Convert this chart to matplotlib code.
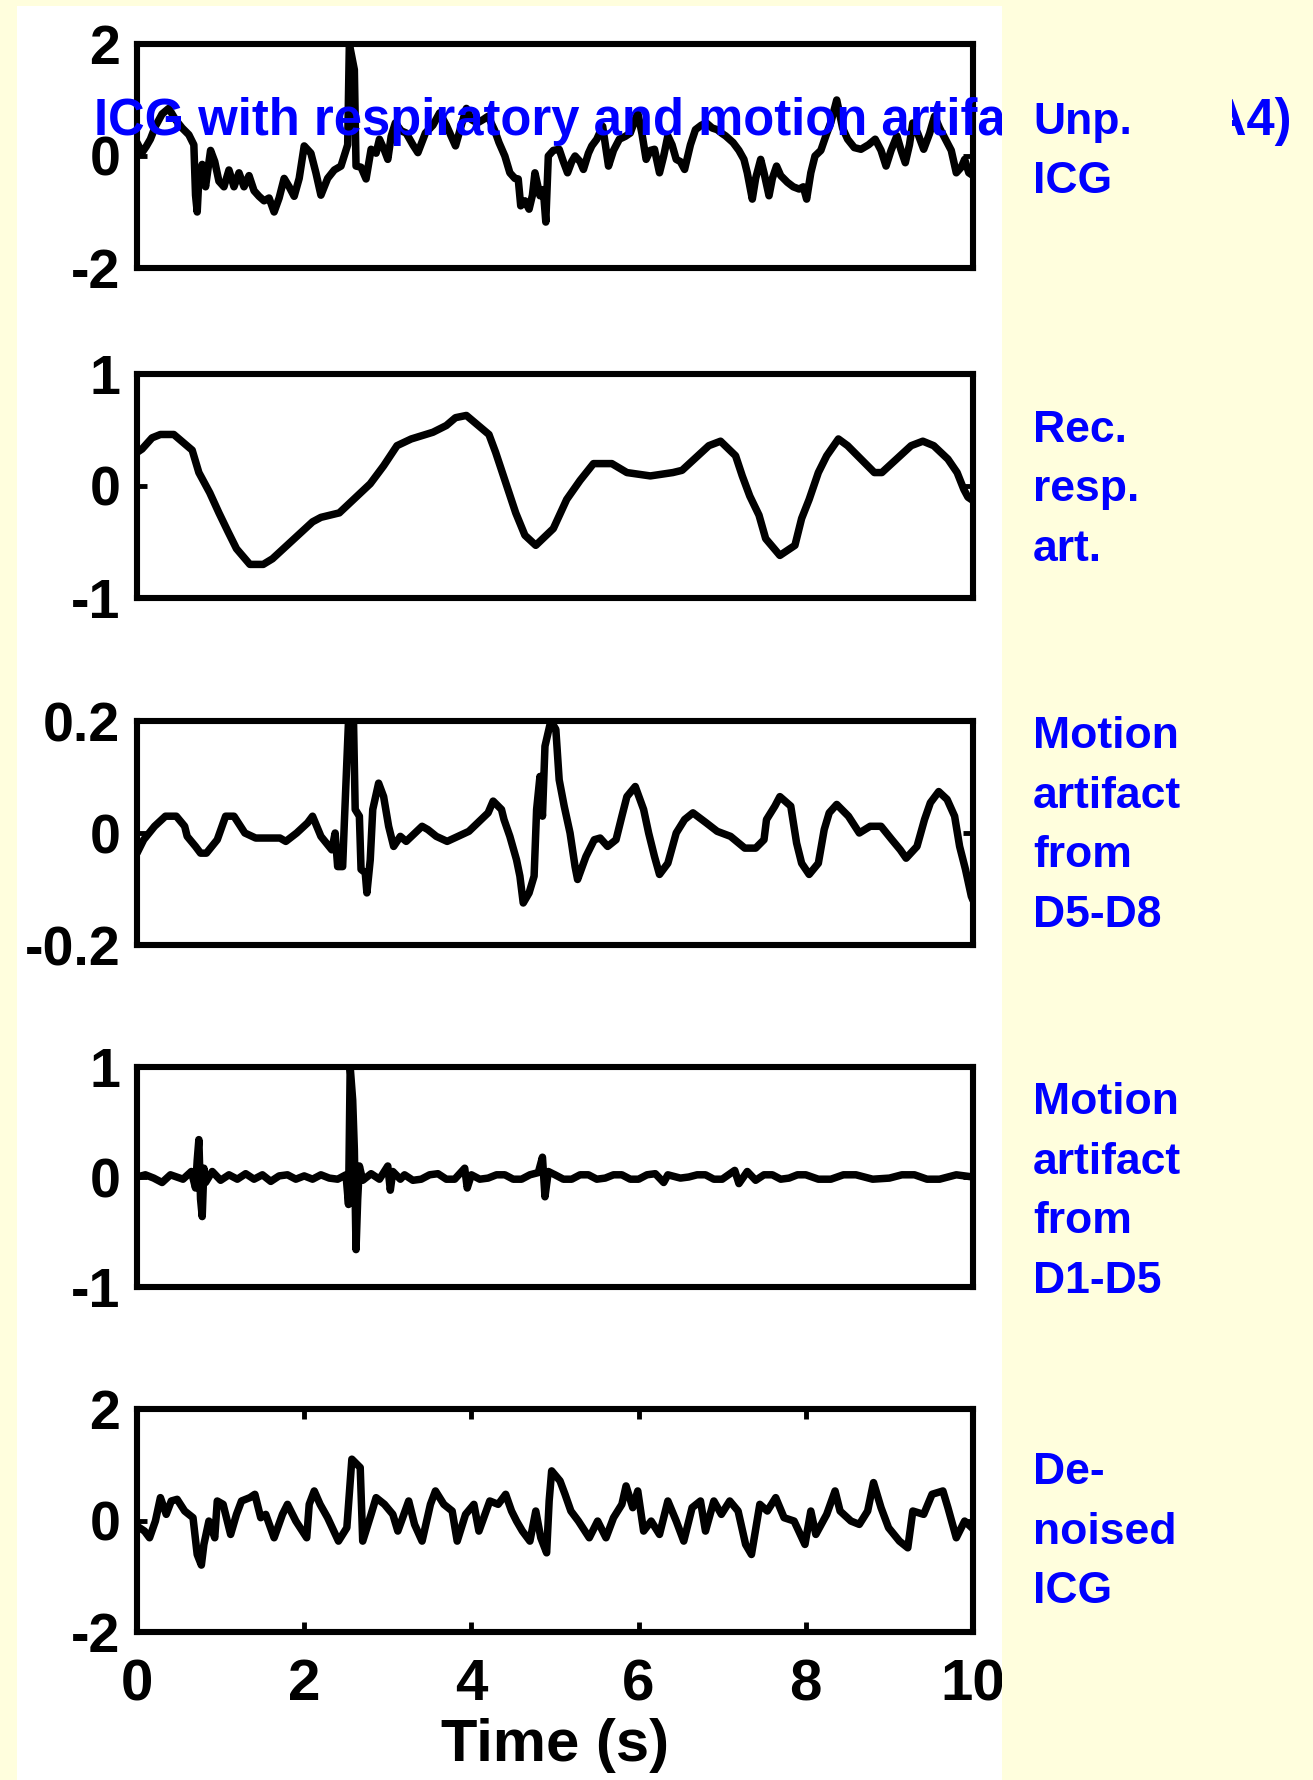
import numpy as np
import matplotlib
matplotlib.use('Agg')
import matplotlib.pyplot as plt
from matplotlib.patches import Rectangle
from matplotlib import font_manager
from matplotlib.font_manager import FontProperties

plt.rcParams['font.family'] = ['Liberation Sans', 'DejaVu Sans']
plt.rcParams['font.weight'] = 'bold'
plt.rcParams['axes.unicode_minus'] = False

# the blue slide texts are in a narrow face; use it when it is there
try:
    font_manager.findfont(FontProperties(family='Liberation Sans Narrow', weight='bold'),
                          fallback_to_default=False)
    NARROW = 'Liberation Sans Narrow'
    TITLE_FS, LABEL_FS = 44.5, 38
except ValueError:
    NARROW = 'Liberation Sans'
    TITLE_FS, LABEL_FS = 36.5, 32

# ================== data ==================
# unprocessed ICG (time s, value)
icg_raw = [
    (0.00, 0.24), (0.06, 0.06), (0.11, 0.17), (0.16, 0.30), (0.22, 0.53), (0.30, 0.75),
    (0.38, 0.85), (0.46, 0.65), (0.54, 0.50), (0.62, 0.38), (0.68, 0.20), (0.70, -0.70),
    (0.72, -1.00), (0.74, -0.40), (0.78, -0.15), (0.82, -0.55), (0.88, 0.10), (0.93, -0.10),
    (0.98, -0.45), (1.04, -0.55), (1.10, -0.25), (1.16, -0.55), (1.22, -0.30), (1.28, -0.55),
    (1.34, -0.35), (1.40, -0.62), (1.46, -0.72), (1.52, -0.80), (1.58, -0.75), (1.64, -1.00),
    (1.70, -0.75), (1.76, -0.40), (1.82, -0.55), (1.88, -0.72), (1.94, -0.40), (2.00, 0.18),
    (2.08, 0.05), (2.14, -0.30), (2.20, -0.70), (2.28, -0.40), (2.36, -0.25), (2.44, -0.18),
    (2.52, 0.20), (2.54, 2.00), (2.60, 1.54), (2.62, -0.18), (2.68, -0.20), (2.74, -0.41),
    (2.80, 0.12), (2.86, 0.05), (2.90, 0.30), (2.96, 0.10), (3.00, -0.06), (3.04, 0.35),
    (3.09, 0.59), (3.16, 0.45), (3.22, 0.41), (3.30, 0.20), (3.36, 0.06), (3.45, 0.41),
    (3.54, 0.55), (3.62, 0.77), (3.70, 0.55), (3.81, 0.18), (3.88, 0.55), (3.94, 0.85),
    (4.00, 0.65), (4.07, 0.59), (4.14, 0.65), (4.20, 0.71), (4.28, 0.45), (4.33, 0.24),
    (4.40, 0.00), (4.46, -0.30), (4.52, -0.40), (4.56, -0.41), (4.59, -0.89), (4.64, -0.80),
    (4.69, -0.95), (4.73, -0.70), (4.76, -0.30), (4.82, -0.71), (4.86, -0.60), (4.89, -1.18),
    (4.92, 0.00), (4.98, 0.10), (5.05, 0.12), (5.10, -0.10), (5.15, -0.30), (5.20, -0.10),
    (5.24, 0.00), (5.30, -0.10), (5.34, -0.24), (5.40, 0.05), (5.44, 0.18), (5.50, 0.30),
    (5.57, 0.53), (5.64, -0.18), (5.70, 0.10), (5.77, 0.30), (5.84, 0.35), (5.90, 0.41),
    (5.99, 0.77), (6.04, 0.40), (6.09, -0.06), (6.14, 0.10), (6.19, 0.12), (6.25, -0.30),
    (6.30, 0.00), (6.35, 0.36), (6.40, 0.20), (6.45, -0.06), (6.50, -0.10), (6.55, -0.24),
    (6.62, 0.20), (6.68, 0.47), (6.75, 0.55), (6.81, 0.59), (6.88, 0.50), (6.94, 0.47),
    (7.00, 0.40), (7.04, 0.36), (7.10, 0.28), (7.13, 0.24), (7.20, 0.10), (7.26, -0.06),
    (7.30, -0.30), (7.36, -0.77), (7.40, -0.40), (7.46, -0.06), (7.50, -0.30), (7.56, -0.71),
    (7.60, -0.40), (7.65, -0.18), (7.70, -0.35), (7.78, -0.47), (7.85, -0.55), (7.92, -0.59),
    (7.97, -0.55), (8.01, -0.77), (8.06, -0.30), (8.11, 0.00), (8.18, 0.10), (8.24, 0.36),
    (8.30, 0.60), (8.37, 1.00), (8.44, 0.50), (8.50, 0.30), (8.58, 0.15), (8.66, 0.12),
    (8.75, 0.20), (8.83, 0.30), (8.90, 0.10), (8.96, -0.18), (9.02, 0.10), (9.09, 0.36),
    (9.14, 0.10), (9.19, -0.12), (9.24, 0.20), (9.28, 0.59), (9.34, 0.40), (9.41, 0.12),
    (9.48, 0.40), (9.54, 0.71), (9.60, 0.50), (9.67, 0.30), (9.74, 0.10), (9.80, -0.30),
    (9.86, -0.20), (9.90, -0.06), (9.95, -0.30), (10.00, -0.35),
]

# reconstructed respiratory artifact
resp_art = [
    (0.00, 0.30), (0.06, 0.33), (0.18, 0.43), (0.28, 0.46), (0.44, 0.46), (0.66, 0.32),
    (0.74, 0.12), (0.87, -0.06), (0.98, -0.24), (1.09, -0.41), (1.19, -0.56), (1.35, -0.70),
    (1.51, -0.70), (1.62, -0.65), (2.10, -0.32), (2.20, -0.28), (2.42, -0.24), (2.79, 0.02),
    (2.95, 0.18), (3.11, 0.36), (3.28, 0.42), (3.54, 0.48), (3.70, 0.54), (3.81, 0.61),
    (3.94, 0.63), (4.21, 0.46), (4.29, 0.30), (4.37, 0.12), (4.45, -0.06), (4.53, -0.24),
    (4.64, -0.44), (4.77, -0.53), (4.98, -0.38), (5.14, -0.12), (5.30, 0.05), (5.46, 0.20),
    (5.68, 0.20), (5.86, 0.12), (6.14, 0.09), (6.41, 0.12), (6.52, 0.14), (6.84, 0.36),
    (6.98, 0.40), (7.16, 0.27), (7.24, 0.09), (7.33, -0.09), (7.44, -0.26), (7.52, -0.47),
    (7.69, -0.62), (7.87, -0.53), (7.95, -0.29), (8.04, -0.12), (8.15, 0.12), (8.25, 0.27),
    (8.39, 0.42), (8.50, 0.36), (8.66, 0.24), (8.82, 0.12), (8.91, 0.12), (9.26, 0.36),
    (9.40, 0.40), (9.53, 0.36), (9.70, 0.24), (9.81, 0.12), (9.89, -0.03), (9.94, -0.10),
    (10.00, -0.13),
]

# motion artifact from D5-D8
motion_d58 = [
    (0.00, -0.036), (0.08, -0.012), (0.21, 0.012), (0.34, 0.030), (0.47, 0.030), (0.57, 0.012),
    (0.60, -0.006), (0.70, -0.024), (0.76, -0.036), (0.83, -0.036), (0.96, -0.012), (1.06, 0.030),
    (1.16, 0.030), (1.29, 0.000), (1.42, -0.009), (1.71, -0.009), (1.78, -0.015), (1.91, 0.000),
    (2.04, 0.018), (2.10, 0.030), (2.20, -0.006), (2.33, -0.030), (2.37, 0.000), (2.40, -0.060),
    (2.46, -0.060), (2.48, 0.018), (2.53, 0.200), (2.59, 0.200), (2.61, 0.042), (2.66, 0.030),
    (2.68, -0.065), (2.73, -0.071), (2.75, -0.107), (2.79, -0.048), (2.82, 0.042), (2.89, 0.089),
    (2.95, 0.065), (3.01, 0.012), (3.07, -0.024), (3.15, -0.006), (3.22, -0.015), (3.41, 0.012),
    (3.48, 0.006), (3.58, -0.006), (3.71, -0.015), (3.84, -0.006), (3.97, 0.003), (4.20, 0.036),
    (4.26, 0.057), (4.36, 0.042), (4.39, 0.024), (4.46, -0.006), (4.54, -0.048), (4.58, -0.077),
    (4.62, -0.125), (4.69, -0.107), (4.75, -0.077), (4.78, 0.042), (4.82, 0.101), (4.85, 0.030),
    (4.88, 0.155), (4.95, 0.200), (5.01, 0.185), (5.05, 0.095), (5.11, 0.048), (5.18, 0.000),
    (5.24, -0.060), (5.27, -0.083), (5.37, -0.042), (5.47, -0.012), (5.54, -0.009), (5.63, -0.024),
    (5.73, -0.012), (5.80, 0.030), (5.86, 0.065), (5.96, 0.083), (6.06, 0.042), (6.12, 0.000),
    (6.19, -0.042), (6.25, -0.074), (6.35, -0.054), (6.45, 0.000), (6.55, 0.024), (6.65, 0.036),
    (6.81, 0.018), (6.94, 0.003), (7.10, -0.006), (7.27, -0.027), (7.40, -0.027), (7.50, -0.012),
    (7.53, 0.024), (7.63, 0.048), (7.69, 0.065), (7.82, 0.048), (7.89, -0.018), (7.95, -0.054),
    (8.04, -0.074), (8.15, -0.054), (8.22, 0.006), (8.28, 0.036), (8.37, 0.051), (8.51, 0.030),
    (8.64, 0.000), (8.77, 0.012), (8.90, 0.012), (9.03, -0.012), (9.13, -0.030), (9.20, -0.045),
    (9.33, -0.024), (9.42, 0.024), (9.49, 0.054), (9.59, 0.074), (9.69, 0.060), (9.78, 0.030),
    (9.84, -0.024), (9.91, -0.065), (9.98, -0.113), (10.00, -0.120),
]

# motion artifact from D1-D5
motion_d15 = [
    (0.00, 0.00), (0.10, 0.02), (0.20, -0.01), (0.30, -0.05), (0.40, 0.02), (0.55, -0.02),
    (0.65, 0.05), (0.70, -0.10), (0.72, 0.15), (0.74, 0.34), (0.76, -0.20), (0.78, -0.36),
    (0.80, 0.08), (0.82, -0.05), (0.90, 0.05), (1.00, -0.03), (1.10, 0.02), (1.20, -0.02),
    (1.30, 0.03), (1.40, -0.02), (1.50, 0.02), (1.60, -0.04), (1.70, 0.01), (1.80, 0.02),
    (1.90, -0.02), (2.00, 0.01), (2.10, -0.02), (2.20, 0.02), (2.30, -0.01), (2.40, -0.02),
    (2.50, 0.02), (2.53, -0.25), (2.55, 1.00), (2.58, 0.70), (2.60, 0.25), (2.62, -0.66),
    (2.64, -0.20), (2.66, 0.10), (2.70, -0.03), (2.80, 0.03), (2.90, -0.02), (3.00, 0.10),
    (3.03, -0.12), (3.06, 0.05), (3.15, -0.02), (3.20, 0.02), (3.30, -0.03), (3.40, -0.02),
    (3.50, 0.02), (3.60, 0.03), (3.70, -0.02), (3.80, -0.02), (3.92, 0.08), (3.95, -0.10),
    (4.00, 0.02), (4.10, -0.02), (4.20, -0.01), (4.30, 0.02), (4.40, 0.02), (4.50, -0.02),
    (4.60, -0.02), (4.70, 0.02), (4.80, 0.04), (4.85, 0.18), (4.88, -0.18), (4.92, 0.05),
    (5.00, 0.02), (5.10, -0.02), (5.20, -0.02), (5.30, 0.02), (5.40, 0.02), (5.50, -0.02),
    (5.60, -0.01), (5.70, 0.02), (5.80, 0.02), (5.90, -0.02), (6.00, -0.02), (6.10, 0.02),
    (6.20, 0.03), (6.30, -0.05), (6.35, 0.02), (6.50, -0.01), (6.60, 0.00), (6.70, 0.02),
    (6.80, 0.02), (6.90, -0.02), (7.00, -0.02), (7.15, 0.06), (7.20, -0.06), (7.30, 0.05),
    (7.40, -0.03), (7.50, 0.02), (7.60, 0.02), (7.70, -0.02), (7.80, -0.01), (7.90, 0.02),
    (8.00, 0.02), (8.15, -0.02), (8.30, -0.02), (8.45, 0.02), (8.60, 0.02), (8.80, -0.02),
    (9.00, -0.01), (9.15, 0.02), (9.30, 0.02), (9.45, -0.02), (9.60, -0.02), (9.80, 0.02),
    (10.00, 0.00),
]

# de-noised ICG
icg_clean = [
    (0.00, -0.10), (0.09, -0.19), (0.15, -0.31), (0.22, -0.01), (0.28, 0.41), (0.35, 0.11),
    (0.41, 0.35), (0.48, 0.38), (0.57, 0.17), (0.67, 0.05), (0.72, -0.61), (0.77, -0.80),
    (0.80, -0.43), (0.86, -0.01), (0.93, -0.31), (0.96, 0.35), (1.03, 0.29), (1.12, -0.25),
    (1.19, 0.11), (1.25, 0.35), (1.35, 0.41), (1.41, 0.47), (1.48, 0.05), (1.54, 0.11),
    (1.64, -0.31), (1.74, 0.11), (1.80, 0.29), (1.90, -0.01), (2.03, -0.31), (2.06, 0.29),
    (2.12, 0.53), (2.19, 0.29), (2.28, 0.05), (2.41, -0.37), (2.51, -0.13), (2.57, 1.10),
    (2.67, 0.95), (2.70, -0.37), (2.80, 0.11), (2.86, 0.41), (2.96, 0.29), (3.06, 0.11),
    (3.12, -0.19), (3.25, 0.35), (3.32, -0.07), (3.41, -0.37), (3.51, 0.29), (3.57, 0.53),
    (3.67, 0.29), (3.77, 0.17), (3.83, -0.37), (3.93, 0.11), (4.03, 0.29), (4.09, -0.19),
    (4.22, 0.35), (4.32, 0.29), (4.41, 0.47), (4.48, 0.17), (4.54, -0.01), (4.61, -0.19),
    (4.70, -0.37), (4.77, 0.17), (4.83, -0.31), (4.90, -0.58), (4.93, 0.35), (4.96, 0.89),
    (5.06, 0.71), (5.12, 0.47), (5.19, 0.17), (5.28, -0.01), (5.41, -0.31), (5.51, -0.01),
    (5.61, -0.31), (5.70, 0.05), (5.80, 0.29), (5.85, 0.62), (5.93, 0.23), (5.99, 0.53),
    (6.06, -0.19), (6.15, -0.01), (6.25, -0.25), (6.35, 0.35), (6.45, -0.01), (6.54, -0.37),
    (6.64, 0.23), (6.74, 0.35), (6.80, -0.19), (6.90, 0.35), (6.99, 0.11), (7.09, 0.35),
    (7.19, 0.17), (7.28, -0.43), (7.35, -0.61), (7.45, 0.29), (7.54, 0.17), (7.64, 0.41),
    (7.74, 0.05), (7.86, -0.01), (7.99, -0.43), (8.06, 0.17), (8.12, -0.25), (8.25, 0.11),
    (8.35, 0.53), (8.41, 0.17), (8.54, -0.01), (8.64, -0.07), (8.74, 0.17), (8.81, 0.68),
    (8.90, 0.23), (8.99, -0.13), (9.12, -0.37), (9.22, -0.49), (9.28, 0.17), (9.41, 0.11),
    (9.51, 0.47), (9.64, 0.53), (9.70, 0.23), (9.80, -0.31), (9.90, -0.01), (10.00, -0.15),
]

series = [icg_raw, resp_art, motion_d58, motion_d15, icg_clean]
ylims = [(-2, 2), (-1, 1), (-0.2, 0.2), (-1, 1), (-2, 2)]
ytick_vals = [[-2, 0, 2], [-1, 0, 1], [-0.2, 0, 0.2], [-1, 0, 1], [-2, 0, 2]]
ytick_txt = [['-2', '0', '2'], ['-1', '0', '1'], ['-0.2', '0', '0.2'],
             ['-1', '0', '1'], ['-2', '0', '2']]
xtick_vals = [0, 2, 4, 6, 8, 10]
side_labels = ['Unp.\nICG', 'Rec.\nresp.\nart.', 'Motion\nartifact\nfrom\nD5-D8',
               'Motion\nartifact\nfrom\nD1-D5', 'De-\nnoised\nICG']
title_main = 'ICG with respiratory and motion artifacts'
title_tail = '(A4)'
xlabel = 'Time (s)'

# ================== layout (pixels of the 1313x1780 picture) ==================
W, H = 1313, 1780
BG = '#FFFEDD'
BLUE = '#0000FF'
ax_left, ax_right = 137, 973
ax_tops = [44, 374, 721, 1067, 1409]
ax_bots = [268, 598, 945, 1287, 1632]
label_y = [152, 490, 826, 1192, 1532]
line_step = 63  # px between lines of the side labels

fig = plt.figure(figsize=(W / 100, H / 100), dpi=100, facecolor=BG)

# white slide area behind the plots
fig.patches.append(Rectangle((17 / W, 0), (1002 - 17) / W, 1 - 6 / H,
                             transform=fig.transFigure, facecolor='white',
                             edgecolor='none', zorder=-5))

for i, data in enumerate(series):
    t = [p[0] for p in data]
    v = [p[1] for p in data]
    ax = fig.add_axes([ax_left / W, 1 - ax_bots[i] / H, (ax_right - ax_left) / W,
                       (ax_bots[i] - ax_tops[i]) / H])
    ax.plot(t, v, color='black', lw=5.4, solid_joinstyle='round', solid_capstyle='round')
    ax.set_xlim(0, 10)
    ax.set_ylim(*ylims[i])
    ax.set_yticks(ytick_vals[i])
    ax.set_yticklabels(ytick_txt[i], fontsize=40, fontweight='bold')
    for s in ax.spines.values():
        s.set_linewidth(4.4)
    ax.tick_params(direction='in', length=7, width=3.5, left=True, right=True,
                   top=True, bottom=True, pad=12)
    if i < 4:
        ax.set_xticks([])
    else:
        ax.set_xticks(xtick_vals)
        ax.set_xticklabels([str(x) for x in xtick_vals], fontsize=42, fontweight='bold')
        ax.tick_params(axis='x', pad=19)
        ax.set_xlabel(xlabel, fontsize=43, fontweight='bold', labelpad=4)

# title, partly hidden by the box of the first label
fig.text(94 / W, 1 - 135 / H, title_main, color=BLUE, fontsize=TITLE_FS,
         fontweight='bold', family=NARROW, ha='left', va='baseline', zorder=4)
fig.text(1292 / W, 1 - 135 / H, title_tail, color=BLUE, fontsize=TITLE_FS,
         fontweight='bold', family=NARROW, ha='right', va='baseline', zorder=4)
fig.patches.append(Rectangle((1002 / W, 1 - 240 / H), (1232 - 1002) / W, 240 / H,
                             transform=fig.transFigure, facecolor=BG,
                             edgecolor='none', zorder=5))
fig.patches.append(Rectangle((1002 / W, 0), (W - 1002) / W, 1 - 240 / H,
                             transform=fig.transFigure, facecolor=BG,
                             edgecolor='none', zorder=5))

em_px = LABEL_FS * 100 / 72
for lab, yc in zip(side_labels, label_y):
    fig.text(1033 / W, 1 - yc / H, lab, color=BLUE, fontsize=LABEL_FS, fontweight='bold',
             family=NARROW, ha='left', va='center',
             linespacing=line_step / (0.9 * em_px), zorder=6)

plt.savefig('out.png', dpi=100, facecolor=BG)
